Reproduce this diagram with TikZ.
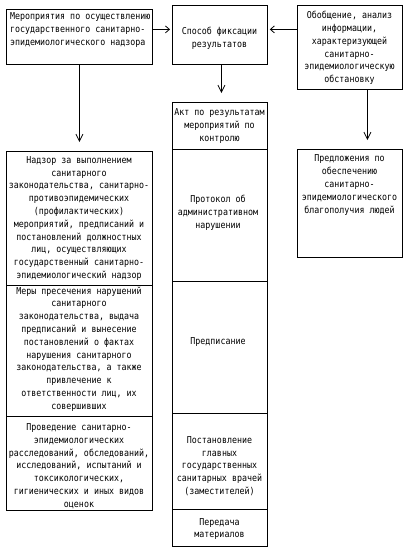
\documentclass[tikz,border=0pt]{standalone}
\usepackage{fontspec}
\setmainfont[FakeStretch=0.875]{DejaVu Sans Mono}
\usetikzlibrary{arrows.meta,calc}
\begin{document}
\begin{tikzpicture}[x=1pt,y=-1pt,
  box/.style={draw, line width=0.8pt, inner sep=0pt, anchor=north west},
  txt/.style={font=\fontsize{9.5}{12.8}\selectfont, align=center, inner sep=0pt},
  varr/.style={line width=0.8pt, -{Straight Barb[length=7pt,width=7pt,line width=0.8pt]}, shorten >=9pt},
  harr/.style={line width=0.8pt, -{Straight Barb[length=4pt,width=7pt,line width=0.8pt]}, shorten >=2pt}]
\useasboundingbox (0,0) rectangle (408,552);
% top row
\node[box, minimum width=146, minimum height=55] (A) at (6,9) {};
\node[box, minimum width=95, minimum height=59] (B) at (172,5) {};
\node[box, minimum width=105, minimum height=84] (C) at (297,5) {};
% left column
\node[box, minimum width=146, minimum height=134] (L1) at (6,151) {};
\node[box, minimum width=146, minimum height=131] (L2) at (6,285) {};
\node[box, minimum width=146, minimum height=94] (L3) at (6,416) {};
% middle column
\node[box, minimum width=95, minimum height=47] (M1) at (172,102) {};
\node[box, minimum width=95, minimum height=132] (M2) at (172,149) {};
\node[box, minimum width=95, minimum height=132] (M3) at (172,281) {};
\node[box, minimum width=95, minimum height=96] (M4) at (172,413) {};
\node[box, minimum width=95, minimum height=37] (M5) at (172,509) {};
% right lower
\node[box, minimum width=105, minimum height=108] (D) at (297,149) {};
% texts
\node[txt, align=left, anchor=west] (tA) at (10,30) {Мероприятия по осуществлению\\государственного санитарно-\\эпидемиологического надзора};
\node[txt] (tB) at (219.5,38) {Способ фиксации\\результатов};
\node[txt] (tC) at (349.5,48) {Обобщение, анализ\\информации,\\характеризующей\\санитарно-\\эпидемиологическую\\обстановку};
\node[txt] (tL1) at (79,218.5) {Надзор за выполнением\\санитарного\\законодательства, санитарно-\\противоэпидемических\\(профилактических)\\мероприятий, предписаний и\\постановлений должностных\\лиц, осуществляющих\\государственный санитарно-\\эпидемиологический надзор};
\node[txt] (tL2) at (79,349) {Меры пресечения нарушений\\санитарного\\законодательства, выдача\\предписаний и вынесение\\постановлений о фактах\\нарушения санитарного\\законодательства, а также\\привлечение к\\ответственности лиц, их\\совершивших};
\node[txt] (tL3) at (79,466) {Проведение санитарно-\\эпидемиологических\\расследований, обследований,\\исследований, испытаний и\\токсикологических,\\гигиенических и иных видов\\оценок};
\node[txt] (tM1) at (219.5,126) {Акт по результатам\\мероприятий по\\контролю};
\node[txt] (tM2) at (218,213) {Протокол об\\административном\\нарушении};
\node[txt] (tM3) at (218,342) {Предписание};
\node[txt] (tM4) at (219.5,466) {Постановление\\главных\\государственных\\санитарных врачей\\(заместителей)};
\node[txt] (tM5) at (219.5,529) {Передача\\материалов};
\node[txt] (tD) at (349.5,185) {Предложения по\\обеспечению\\санитарно-\\эпидемиологического\\благополучия людей};
% connectors
\draw[varr] (A.south) -- (L1.north);
\draw[varr] ([xshift=1.5pt]B.south) -- ([xshift=1.5pt]M1.north);
\draw[varr] ([xshift=17.5pt]C.south) -- ([xshift=17.5pt]D.north);
\coordinate (pa) at ([yshift=7.5pt]A.east);
\coordinate (pc) at ([yshift=18pt]C.west);
\draw[harr] (pa) -- (pa -| B.west);
\draw[harr] (pc) -- (pc -| B.east);
\end{tikzpicture}
\end{document}
